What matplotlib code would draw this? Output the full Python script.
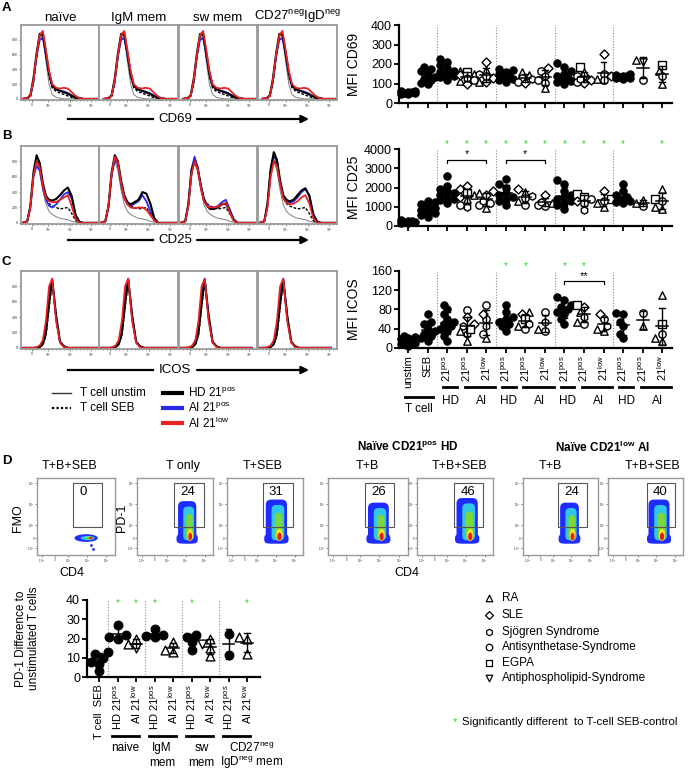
import numpy as np
import matplotlib
matplotlib.use("Agg")
import matplotlib.pyplot as plt
from matplotlib.patches import Rectangle, Ellipse, FancyBboxPatch
from matplotlib.transforms import blended_transform_factory

plt.rcParams['font.family'] = ['Liberation Sans', 'DejaVu Sans']
plt.rcParams['mathtext.fontset'] = 'custom'
plt.rcParams['mathtext.rm'] = 'Liberation Sans'
plt.rcParams['mathtext.bf'] = 'Liberation Sans:bold'
plt.rcParams['mathtext.it'] = 'Liberation Sans:italic'


def sup(s):
    return r'$^{\mathrm{' + s + '}}$'


# ---------------- histogram overlays (height as fraction of the box) ----------------
hist_titles = ['naïve', 'IgM mem', 'sw mem', 'CD27' + sup('neg') + 'IgD' + sup('neg')]
hist_markers = ['CD69', 'CD25', 'ICOS']
hist_x = [0.02, 0.08, 0.12, 0.16, 0.20, 0.24, 0.28, 0.32, 0.36, 0.40,
          0.45, 0.50, 0.55, 0.60, 0.65, 0.70, 0.75, 0.80, 0.90, 1.0]

cd69_unstim = [0, 0, 0.03, 0.2, 0.55, 0.82, 0.84, 0.5, 0.2, 0.06, 0.02, 0.01, 0, 0, 0, 0, 0, 0, 0, 0]
cd69_seb = [0, 0, 0.03, 0.22, 0.58, 0.85, 0.86, 0.58, 0.3, 0.15, 0.1, 0.08, 0.06, 0.04, 0.02, 0.01, 0, 0, 0, 0]
cd69_hd = [0, 0.01, 0.05, 0.28, 0.62, 0.88, 0.88, 0.62, 0.35, 0.18, 0.13, 0.11, 0.09, 0.07, 0.04, 0.02, 0.01, 0, 0, 0]
cd69_aipos = [0, 0.01, 0.04, 0.25, 0.58, 0.8, 0.82, 0.6, 0.34, 0.18, 0.13, 0.11, 0.1, 0.08, 0.05, 0.02, 0.01, 0, 0, 0]
cd69_ailow = [0, 0.01, 0.04, 0.26, 0.6, 0.86, 0.92, 0.66, 0.38, 0.2, 0.15, 0.14, 0.15, 0.14, 0.09, 0.04, 0.01, 0, 0, 0]
cd69_shift = [0.0, 0.04, 0.03, 0.03]

cd25_unstim = [0, 0.02, 0.2, 0.6, 0.8, 0.68, 0.42, 0.24, 0.15, 0.11, 0.08, 0.06, 0.05, 0.04, 0.02, 0.01, 0, 0, 0, 0]
cd25_seb = [0, 0.02, 0.22, 0.62, 0.84, 0.74, 0.5, 0.32, 0.25, 0.22, 0.2, 0.18, 0.19, 0.2, 0.12, 0.03, 0, 0, 0, 0]
cd25_hd = [
    [0, 0.02, 0.22, 0.66, 0.88, 0.78, 0.52, 0.35, 0.3, 0.29, 0.31, 0.36, 0.42, 0.46, 0.35, 0.1, 0.01, 0, 0, 0],
    [0, 0.02, 0.22, 0.66, 0.88, 0.8, 0.55, 0.36, 0.27, 0.24, 0.27, 0.3, 0.4, 0.38, 0.25, 0.06, 0, 0, 0, 0],
    [0, 0.02, 0.24, 0.68, 0.8, 0.7, 0.48, 0.3, 0.22, 0.18, 0.18, 0.2, 0.24, 0.25, 0.15, 0.04, 0, 0, 0, 0],
    [0, 0.02, 0.25, 0.7, 0.92, 0.82, 0.55, 0.36, 0.3, 0.28, 0.3, 0.36, 0.42, 0.45, 0.35, 0.1, 0.01, 0, 0, 0],
]
cd25_aipos = [
    [0, 0.02, 0.2, 0.6, 0.74, 0.68, 0.45, 0.3, 0.22, 0.2, 0.24, 0.3, 0.37, 0.4, 0.32, 0.1, 0.01, 0, 0, 0],
    [0, 0.02, 0.2, 0.62, 0.82, 0.76, 0.5, 0.32, 0.24, 0.22, 0.25, 0.28, 0.36, 0.28, 0.15, 0.04, 0, 0, 0, 0],
    [0, 0.02, 0.25, 0.7, 0.86, 0.72, 0.48, 0.3, 0.24, 0.2, 0.2, 0.22, 0.27, 0.3, 0.18, 0.05, 0, 0, 0, 0],
    [0, 0.02, 0.24, 0.68, 0.88, 0.8, 0.52, 0.34, 0.28, 0.26, 0.28, 0.33, 0.4, 0.44, 0.36, 0.12, 0.02, 0, 0, 0],
]
cd25_ailow = [
    [0, 0.02, 0.2, 0.62, 0.8, 0.72, 0.48, 0.32, 0.28, 0.27, 0.27, 0.3, 0.33, 0.36, 0.22, 0.05, 0, 0, 0, 0],
    [0, 0.02, 0.22, 0.64, 0.86, 0.78, 0.52, 0.33, 0.24, 0.2, 0.19, 0.2, 0.2, 0.17, 0.1, 0.03, 0, 0, 0, 0],
    [0, 0.02, 0.22, 0.64, 0.8, 0.7, 0.46, 0.28, 0.22, 0.2, 0.2, 0.21, 0.24, 0.26, 0.14, 0.03, 0, 0, 0, 0],
    [0, 0.02, 0.2, 0.6, 0.8, 0.74, 0.5, 0.32, 0.26, 0.24, 0.25, 0.28, 0.33, 0.36, 0.25, 0.06, 0, 0, 0, 0],
]

icos_unstim = [0, 0, 0, 0, 0, 0.01, 0.04, 0.15, 0.5, 0.85, 0.35, 0.06, 0.01, 0, 0, 0, 0, 0, 0, 0]
icos_seb = [0, 0, 0, 0, 0, 0.01, 0.04, 0.16, 0.52, 0.86, 0.38, 0.07, 0.01, 0, 0, 0, 0, 0, 0, 0]
icos_hd = [0, 0, 0, 0, 0, 0.01, 0.05, 0.2, 0.6, 0.88, 0.42, 0.08, 0.02, 0, 0, 0, 0, 0, 0, 0]
icos_aipos = [0, 0, 0, 0, 0, 0.02, 0.06, 0.25, 0.7, 0.9, 0.4, 0.08, 0.02, 0, 0, 0, 0, 0, 0, 0]
icos_ailow = [0, 0, 0, 0, 0.01, 0.03, 0.1, 0.35, 0.8, 0.9, 0.35, 0.07, 0.01, 0, 0, 0, 0, 0, 0, 0]
icos_shift = [0.0, -0.03, -0.07, -0.08]

# ---------------- MFI scatter data (14 groups) ----------------
mfi_xlabels = ['unstim', 'SEB'] + ['21' + sup('pos'), '21' + sup('pos'), '21' + sup('low')] * 4

cd69_values = [
    [45, 50, 55, 60, 52, 58, 48, 62],
    [95, 105, 120, 135, 150, 165, 175, 185, 125],
    [120, 135, 150, 165, 180, 195, 210, 225, 140, 160],
    [165, 150, 115, 100, 145, 160, 130, 120],
    [210, 130, 110, 170, 110, 140, 150],
    [110, 120, 130, 140, 150, 160, 170, 175, 125],
    [160, 145, 130, 110, 105, 125],
    [165, 120, 105, 180, 75, 140],
    [100, 110, 120, 130, 140, 150, 165, 185, 205, 115],
    [185, 160, 130, 120, 105, 140, 110, 125],
    [250, 150, 118, 122, 140],
    [125, 130, 135, 140, 145, 150, 128, 138],
    [218, 210, 118],
    [195, 165, 100, 140],
]
cd69_shapes = [None, None, None, '^^^DDsho', 'DDD^^oh', None, '^^ooDh', 'oooD^h',
               None, 's^^DDooh', 'Doo^D', None, '^vo', 's^^o']

cd25_values = [
    [150, 200, 250, 300, 220, 180, 260],
    [450, 550, 650, 750, 850, 950, 1050, 1150, 1250, 1300],
    [1200, 1350, 1500, 1600, 1700, 1800, 1900, 2100, 2600, 1400],
    [2100, 1900, 1500, 1700, 1600, 1400, 1000, 1100],
    [1800, 1600, 1700, 950, 1100, 1200, 1300],
    [1100, 1300, 1400, 1500, 1700, 2000, 2200, 2450, 1600],
    [1900, 1750, 1300, 1450, 1100, 1550],
    [1600, 1200, 1100, 1050, 1250],
    [900, 1100, 1300, 1400, 1600, 1800, 2200, 2400, 1500, 1200],
    [1650, 1500, 1300, 850, 1200, 1400],
    [1800, 1400, 1200, 1000, 1300],
    [1200, 1300, 1400, 1500, 1600, 1800, 2200, 1250],
    [1050, 1350, 1200],
    [1900, 900, 1000, 1400, 1300],
]
cd25_shapes = [None, None, None, 'DDDs^^ho', 'DD^^ooh', None, 'D^^ooh', 'D^ooh',
               None, 'ssDhoo', 'Ds^^o', None, 'o^^', '^^^so']
cd25_stars = [2, 3, 4, 5, 6, 7, 8, 9, 10, 11, 13]
cd25_brackets = [(2, 4, '*', 3450), (5, 7, '*', 3450)]

icos_values = [
    [5, 8, 10, 12, 15, 18, 20, 22, 25],
    [15, 20, 25, 30, 35, 40, 50, 55, 70],
    [15, 25, 35, 40, 45, 50, 55, 60, 70, 80, 90],
    [78, 65, 50, 15, 35, 45, 30, 40],
    [90, 60, 70, 20, 45, 30],
    [35, 45, 50, 55, 60, 65, 75, 90],
    [75, 45, 70, 40, 60, 50],
    [75, 35, 40, 55],
    [50, 60, 70, 75, 80, 85, 90, 100, 105],
    [85, 90, 75, 55, 50, 65],
    [70, 60, 40, 35, 45],
    [20, 30, 45, 55, 70, 72],
    [72, 45],
    [110, 20, 15, 50, 30],
]
icos_shapes = [None, None, None, 'oDD^^hhs', 'ooD^ho', None, '^^Dosh', 'oo^h',
               None, 'Ds^^oh', 'Do^^h', None, 'o^', '^^^so']
icos_stars = [5, 6, 8, 9]
icos_brackets = [(8, 10, '**', 139)]

# ---------------- PD-1 difference data (9 groups) ----------------
pd1_xlabels = ['T cell  SEB'] + ['HD 21' + sup('pos'), 'AI 21' + sup('low')] * 4
pd1_values = [
    [3, 7, 8, 10, 12, 13],
    [20, 21, 22, 27],
    [20, 17, 15],
    [21, 22, 25, 21.5],
    [18, 14, 13],
    [14, 18, 21, 22],
    [20, 15, 11, 17],
    [22.5, 11.5],
    [21, 20, 12],
]
pd1_shapes = [None, None, '^^v', None, '^^^', None, '^^^v', None, '^^^']
pd1_stars = [1, 2, 3, 5, 8]
pd1_group_line1 = ['naive', 'IgM', 'sw', 'CD27' + sup('neg')]
pd1_group_line2 = ['', 'mem', 'mem', 'IgD' + sup('neg') + ' mem']

# ---------------- PD-1 / CD4 dot plots ----------------
dot_titles = ['T+B+SEB', 'T only', 'T+SEB', 'T+B', 'T+B+SEB', 'T+B', 'T+B+SEB']
dot_pct = ['0', '24', '31', '26', '46', '24', '40']
dot_gate_x0 = [0.46, 0.49, 0.47, 0.46, 0.49, 0.47, 0.52]
dot_gate_x1 = [0.83, 0.88, 0.87, 0.83, 0.87, 0.85, 0.89]
dot_cloud_cx = [0.63, 0.66, 0.65, 0.63, 0.66, 0.62, 0.68]
dot_cloud_w = [0.30, 0.24, 0.28, 0.26, 0.28, 0.25, 0.28]
dot_cloud_bot = [0.17, 0.15, 0.15, 0.15, 0.15, 0.15, 0.15]
dot_cloud_top = [0.27, 0.70, 0.72, 0.68, 0.74, 0.68, 0.72]

disease_names = ['RA', 'SLE', 'Sjögren Syndrome', 'Antisynthetase-Syndrome', 'EGPA', 'Antiphospholipid-Syndrome']
disease_codes = ['^', 'D', 'h', 'o', 's', 'v']

# ---------------------------------------------------------------------------
W, H = 695, 770
fig = plt.figure(figsize=(W / 100, H / 100), dpi=100)
GREEN = '#27d827'


def px_axes(x0, y0, x1, y1):
    return fig.add_axes([x0 / W, 1 - y1 / H, (x1 - x0) / W, (y1 - y0) / H])


def swarm_offsets(vals, ax_h, ymax, cat_px, diam):
    ys = np.asarray(vals, float) / ymax * ax_h
    offs = np.zeros(len(ys))
    placed = []
    for i in np.argsort(ys):
        best, best_d = 0.0, -1
        for k in [0, -1, 1, -2, 2]:
            x = k * diam * 0.5
            d = min([np.hypot(x - px, ys[i] - py) for px, py in placed] + [99])
            if d >= diam * 0.8:
                best = x
                break
            if d > best_d:
                best, best_d = x, d
        placed.append((best, ys[i]))
        offs[i] = best / cat_px
    return offs


def draw_groups(ax, values, shapes, ax_h, ymax, cat_px, size, diam):
    for i, vals in enumerate(values):
        shp = shapes[i] or 'F' * len(vals)
        offs = swarm_offsets(vals, ax_h, ymax, cat_px, diam)
        for v, o, c in zip(vals, offs, shp):
            if c == 'F':
                ax.scatter(i + o, v, marker='o', s=size, facecolor='black', edgecolor='black',
                           linewidths=0.8, zorder=3, clip_on=False)
            else:
                s = size * (0.75 if c == 'D' else 1.0)
                ax.scatter(i + o, v, marker=c, s=s, facecolor='white', edgecolor='black',
                           linewidths=1.0, zorder=3, clip_on=False)
        arr = np.asarray(vals, float)
        m, sd = arr.mean(), arr.std(ddof=1)
        ax.plot([i - 0.3, i + 0.3], [m, m], color='black', lw=1.1, zorder=4)
        ax.plot([i, i], [m - sd, m + sd], color='black', lw=1.0, zorder=4)
        for e in (m - sd, m + sd):
            ax.plot([i - 0.15, i + 0.15], [e, e], color='black', lw=1.0, zorder=4)


def style_prism(ax):
    for s in ['top', 'right']:
        ax.spines[s].set_visible(False)
    ax.spines['left'].set_linewidth(1.6)
    ax.spines['bottom'].set_linewidth(1.6)
    ax.tick_params(axis='both', length=3.5, width=1.3, labelsize=9, pad=1.5)


# ---------------- histograms ----------------
hist_box_x = [(21, 99), (99, 178), (179, 257), (258, 337)]
hist_row_y = [(25, 100), (146, 224), (271, 349)]
hist_styles = [('#808080', 0.7, '-'), ('black', 1.0, (0, (2, 1.2))), ('#2a2ae6', 1.3, '-'),
               ('black', 1.5, '-'), ('#e82222', 1.3, '-')]

for r, (y0, y1) in enumerate(hist_row_y):
    for j, (x0, x1) in enumerate(hist_box_x):
        ax = px_axes(x0, y0, x1, y1)
        xs = np.array(hist_x)
        if r == 0:
            curves = [cd69_unstim, cd69_seb, cd69_aipos, cd69_hd, cd69_ailow]
            xs = xs + cd69_shift[j]
        elif r == 1:
            curves = [cd25_unstim, cd25_seb, cd25_aipos[j], cd25_hd[j], cd25_ailow[j]]
        else:
            curves = [icos_unstim, icos_seb, icos_aipos, icos_hd, icos_ailow]
            xs = xs + icos_shift[j]
        for yv, (col, lw, ls) in zip(curves, hist_styles):
            ax.plot(xs, yv, color=col, lw=lw, ls=ls)
        ax.set_xlim(0, 1)
        ax.set_ylim(-0.015, 1.0)
        for s in ax.spines.values():
            s.set_color('#9a9a9a')
            s.set_linewidth(1.3)
        ax.set_xticks([0.14, 0.35, 0.63, 0.9])
        ax.set_xticklabels(['0', '10$^2$', '10$^3$', '10$^4$'], fontsize=2.5)
        ax.set_xticks(np.arange(0.05, 1.0, 0.05), minor=True)
        if j == 0:
            ax.set_yticks([0, 0.2, 0.4, 0.6, 0.8])
            ax.set_yticklabels(['0', '200', '400', '600', '800'], fontsize=2.5)
        else:
            ax.set_yticks([])
        ax.tick_params(which='both', length=1.5, width=0.4, pad=0.5, colors='#333333')
        ax.tick_params(which='minor', length=0.8)
        if r == 0:
            ax.set_title(hist_titles[j], fontsize=9.5, pad=3)

# ---------------- MFI scatter panels ----------------
mfi_rows = [(25, 103, cd69_values, cd69_shapes, 400, [0, 100, 200, 300, 400], 'MFI CD69', [], []),
            (149, 226, cd25_values, cd25_shapes, 4000, [0, 1000, 2000, 3000, 4000], 'MFI CD25',
             cd25_stars, cd25_brackets),
            (271, 348, icos_values, icos_shapes, 160, [0, 40, 80, 120, 160], 'MFI ICOS',
             icos_stars, icos_brackets)]

for r, (y0, y1, vals, shps, ymax, yt, ylab, stars, brackets) in enumerate(mfi_rows):
    ax = px_axes(399, y0, 672, y1)
    ax.set_xlim(-0.46, 13.5)
    ax.set_ylim(0, ymax)
    for xv in [1.5, 4.5, 7.5, 10.5]:
        ax.axvline(xv, color='#8a8a8a', ls=(0, (1, 1.5)), lw=0.8, zorder=1)
    draw_groups(ax, vals, shps, y1 - y0, ymax, 19.5, 28, 7.0)
    style_prism(ax)
    ax.set_yticks(yt)
    ax.set_xticks(range(14))
    ax.set_ylabel(ylab, fontsize=10)
    ax.yaxis.set_label_coords(-0.139, 0.5)
    for i in stars:
        ax.text(i, ymax * 1.06, '*', color=GREEN, ha='center', va='center', fontsize=7, clip_on=False)
    for a, b, lab, yb in brackets:
        h = ymax * 0.04
        ax.plot([a, a, b, b], [yb - h, yb, yb, yb - h], color='black', lw=0.9)
        ax.text((a + b) / 2, yb + ymax * 0.005, lab, ha='center', va='bottom', fontsize=8)
    if r < 2:
        ax.set_xticklabels([])
    else:
        ax.set_xticklabels(mfi_xlabels, rotation=90, fontsize=8)
        tr = blended_transform_factory(ax.transData, ax.transAxes)
        frac = lambda ypx: (y1 - ypx) / (y1 - y0)
        ax.plot([-0.15, 1.3], [frac(397)] * 2, color='black', lw=2, transform=tr, clip_on=False)
        ax.text(0.55, frac(409), 'T cell', ha='center', va='center', fontsize=8.5, transform=tr)
        for g in range(4):
            i = 2 + 3 * g
            ax.plot([i - 0.2, i + 0.5], [frac(387)] * 2, color='black', lw=2, transform=tr, clip_on=False)
            ax.plot([i + 0.9, i + 2.45], [frac(387)] * 2, color='black', lw=2, transform=tr, clip_on=False)
            ax.text(i + 0.15, frac(401), 'HD', ha='center', va='center', fontsize=8.5, transform=tr)
            ax.text(i + 1.75, frac(401), 'AI', ha='center', va='center', fontsize=8.5, transform=tr)

# ---------------- D: dot plots ----------------
dot_box_x = [(37, 115), (137, 213), (227, 303), (328, 408), (417, 493), (523, 598), (608, 683)]
dot_title_x = [70, 183, 263, 367, 460, 550, 653]
cloud_cols = ['#1e2cff', '#2fc6e8', '#7ad83a', '#f5e41e', '#ee1a1a']


def rbox(ax, x0, x1, y0, y1, col, rnd):
    ax.add_patch(FancyBboxPatch((x0, y0), x1 - x0, y1 - y0, boxstyle='round,pad=0,rounding_size=%g' % rnd,
                                facecolor=col, edgecolor='none', mutation_aspect=1.0))


for k, (x0, x1) in enumerate(dot_box_x):
    ax = px_axes(x0, 478, x1, 555)
    ax.set_xlim(0, 1)
    ax.set_ylim(0, 1)
    for s in ax.spines.values():
        s.set_color('#9a9a9a')
        s.set_linewidth(1.0)
    ax.set_xticks([0.06, 0.23, 0.4, 0.64, 0.89])
    ax.set_xticklabels(['-10$^3$', '0', '10$^3$', '10$^4$', '10$^5$'], fontsize=2.2)
    ax.set_yticks([0.09, 0.22, 0.39, 0.66, 0.93])
    ax.set_yticklabels(['-10$^3$', '0', '10$^3$', '10$^4$', '10$^5$'], fontsize=2.2)
    ax.tick_params(length=1.5, width=0.4, pad=0.5, colors='#333333')
    cx, w = dot_cloud_cx[k], dot_cloud_w[k]
    yb, yt = dot_cloud_bot[k], dot_cloud_top[k]
    if k == 0:
        cy = (yb + yt) / 2
        ax.add_patch(Ellipse((cx, cy), w, yt - yb, color=cloud_cols[0], lw=0))
        ax.add_patch(Ellipse((cx + 0.02, cy), w * 0.6, (yt - yb) * 0.55, color=cloud_cols[1], lw=0))
        ax.add_patch(Ellipse((cx + 0.04, cy), w * 0.35, (yt - yb) * 0.4, color=cloud_cols[2], lw=0))
        ax.add_patch(Ellipse((cx + 0.06, cy), w * 0.15, (yt - yb) * 0.3, color=cloud_cols[4], lw=0))
        ax.plot([cx + 0.06, cx + 0.09], [yb - 0.04, yb - 0.09], 's', ms=0.9, color=cloud_cols[0])
    else:
        hh = yt - yb
        rbox(ax, cx - w / 2, cx + w / 2, yb, yt, cloud_cols[0], 0.07)
        rbox(ax, cx - w * 0.5 - 0.02, cx + w * 0.5 + 0.02, yb, yb + 0.12, cloud_cols[0], 0.05)
        rbox(ax, cx - w * 0.3 + 0.02, cx + w * 0.3 + 0.02, yb + 0.04, yt - 0.07, cloud_cols[1], 0.06)
        rbox(ax, cx - w * 0.18 + 0.03, cx + w * 0.18 + 0.03, yb + 0.05, yt - hh * 0.3, cloud_cols[2], 0.05)
        ax.add_patch(Ellipse((cx + 0.04, yb + 0.11), w * 0.3, 0.16, color=cloud_cols[3], lw=0))
        ax.add_patch(Ellipse((cx + 0.04, yb + 0.09), w * 0.2, 0.1, color=cloud_cols[4], lw=0))
    g0, g1 = dot_gate_x0[k], dot_gate_x1[k]
    ax.add_patch(Rectangle((g0, 0.36), g1 - g0, 0.575, fill=False, edgecolor='#555555', lw=0.8, zorder=5))
    ax.text(g0 + 0.08, 0.9, dot_pct[k], ha='left', va='top', fontsize=9.5, zorder=6)

# ---------------- D: PD-1 difference scatter ----------------
ax = px_axes(87, 600, 260, 677)
ax.set_xlim(-0.65, 8.7)
ax.set_ylim(0, 40)
for xv in [0.5, 2.5, 4.5, 6.5]:
    ax.axvline(xv, color='#8a8a8a', ls=(0, (1, 1.5)), lw=0.8, zorder=1)
draw_groups(ax, pd1_values, pd1_shapes, 77, 40, 18.5, 40, 8.5)
style_prism(ax)
ax.set_yticks([0, 10, 20, 30, 40])
ax.set_xticks(range(9))
ax.set_xticklabels(pd1_xlabels, rotation=90, fontsize=8)
ax.set_ylabel('PD-1 Difference to\nunstimulated T cells', fontsize=8.5, linespacing=1.15)
ax.yaxis.set_label_coords(-0.27, 0.5)
for i in pd1_stars:
    ax.text(i, 38.3, '*', color=GREEN, ha='center', va='center', fontsize=7)
tr = blended_transform_factory(ax.transData, ax.transAxes)
pd1_group_x = [1.4, 3.4, 5.55, 8.25]
for g in range(4):
    a = 2 * g + 1
    ax.plot([a - 0.3, a + 1.15], [-0.77, -0.77], color='black', lw=2, transform=tr, clip_on=False)
    ax.text(pd1_group_x[g], (677 - 748) / 77, pd1_group_line1[g], ha='center', va='center',
            fontsize=8.5, transform=tr)
    ax.text(pd1_group_x[g], (677 - 763) / 77, pd1_group_line2[g], ha='center', va='center',
            fontsize=8.5, transform=tr)

# ---------------- figure-level text, arrows and legends ----------------
ov = fig.add_axes([0, 0, 1, 1], zorder=10)
ov.set_xlim(0, W)
ov.set_ylim(H, 0)
ov.axis('off')

for lab, y in zip(['A', 'B', 'C', 'D'], [8, 136, 262, 461]):
    ov.text(2, y, lab, fontsize=9.5, fontweight='bold', va='center', ha='left')

for lab, y in zip(hist_markers, [119, 240, 370]):
    ov.plot([68, 153], [y, y], color='black', lw=1.6)
    ov.text(175, y, lab, ha='center', va='center', fontsize=9.5)
    ov.annotate('', xy=(309, y), xytext=(197, y),
                arrowprops=dict(arrowstyle='-|>', lw=1.6, color='black', mutation_scale=11,
                                shrinkA=0, shrinkB=0))

# histogram legend
ov.plot([52, 71], [393, 393], color='#333333', lw=1.0)
ov.text(80, 393, 'T cell unstim', va='center', fontsize=8.5)
ov.plot([52, 71], [408, 408], color='black', lw=1.6, ls=(0, (1, 1)))
ov.text(80, 408, 'T cell SEB', va='center', fontsize=8.5)
for y, col, lab in zip([393, 408, 423], ['black', '#2a2ae6', '#e82222'],
                       ['HD 21' + sup('pos'), 'AI 21' + sup('pos'), 'AI 21' + sup('low')]):
    ov.plot([163, 182], [y, y], color=col, lw=3)
    ov.text(188, y, lab, va='center', fontsize=8.5)

# dot plot titles and axis names
for k, tx in enumerate(dot_title_x):
    ov.text(tx, 466, dot_titles[k], ha='center', va='center', fontsize=9)
ov.text(408, 447, 'Naïve CD21' + r'$^{\mathbf{pos}}$' + ' HD', ha='center', va='center',
        fontsize=8.5, fontweight='bold')
ov.text(603, 447, 'Naïve CD21' + r'$^{\mathbf{low}}$' + ' AI', ha='center', va='center',
        fontsize=8.5, fontweight='bold')
ov.text(18, 518, 'FMO', rotation=90, ha='center', va='center', fontsize=9)
ov.text(122, 518, 'PD-1', rotation=90, ha='center', va='center', fontsize=9)
ov.text(72, 573, 'CD4', ha='center', va='center', fontsize=9)
ov.text(407, 573, 'CD4', ha='center', va='center', fontsize=9)

# disease legend
for k, (name, code) in enumerate(zip(disease_names, disease_codes)):
    y = [598, 615, 632, 647, 663, 678][k]
    ov.scatter(489, y, marker=code, s=22 if code != 'D' else 16, facecolor='white',
               edgecolor='black', linewidths=0.9)
    ov.text(502, y, name, va='center', fontsize=8.5)

ov.text(453, 722, '*', color=GREEN, va='center', fontsize=8)
ov.text(462, 722, 'Significantly different  to T-cell SEB-control', va='center', fontsize=8.2)

fig.savefig('out.png', dpi=100)
